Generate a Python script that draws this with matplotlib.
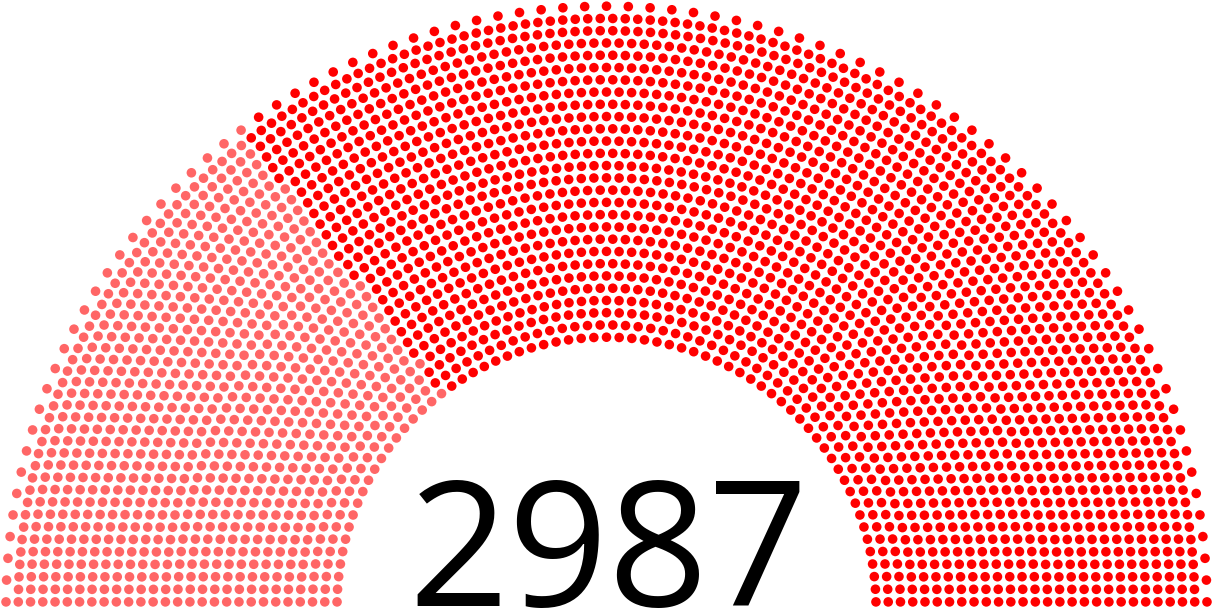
import numpy as np
import matplotlib.pyplot as plt

# ─── DATA ──────────────────────────────────────────────────────────────────────
PARTIES = ["Other parties and independents", "Communist Party of China"]
SEATS   = [872, 2115]
COLORS  = ["#FF6666", "#FF0000"]

# ─── LAYOUT (pixel units) ──────────────────────────────────────────────────────
W, H    = 1213, 611
CX, CY  = 606.5, 606.7      # centre of the arch
N_ROWS  = 28
R_IN    = 269.5
R_OUT   = 600.5
DOT_R   = 4.8
FILL    = 0.982             # how full the inner rows are; outer row takes the rest
# ──────────────────────────────────────────────────────────────────────────────

total = sum(SEATS)
radii = np.linspace(R_IN, R_OUT, N_ROWS)
step = radii[1] - radii[0]

seats = []
for k, R in enumerate(radii):
    if k < N_ROWS - 1:
        cap = np.pi / (2 * np.arcsin(step / (2 * R)))
        n = int(FILL * cap)
    else:
        n = total - len(seats)
    margin = np.sin(DOT_R / R)
    ang = margin + np.arange(n) * (np.pi - 2 * margin) / (n - 1)
    for a in ang:
        seats.append((a, CX + R * np.cos(a), CY - R * np.sin(a)))

# left to right, then hand out seats party by party
seats.sort(reverse=True)
colors = np.repeat(COLORS, SEATS)
xs = [s[1] for s in seats]
ys = [s[2] for s in seats]

fig = plt.figure(figsize=(W / 100, H / 100), dpi=100)
ax = fig.add_axes([0, 0, 1, 1])
ax.set_xlim(0, W)
ax.set_ylim(H, 0)
ax.axis("off")

d_pt = 2 * DOT_R * 72 / 100
ax.scatter(xs, ys, s=d_pt ** 2, c=list(colors), linewidths=0)

ax.text(CX + 1.5, 606, str(total), ha="center", va="baseline",
        fontsize=126, family=["Open Sans", "DejaVu Sans"], color="black")

fig.savefig("out.png", dpi=100, facecolor="white")
